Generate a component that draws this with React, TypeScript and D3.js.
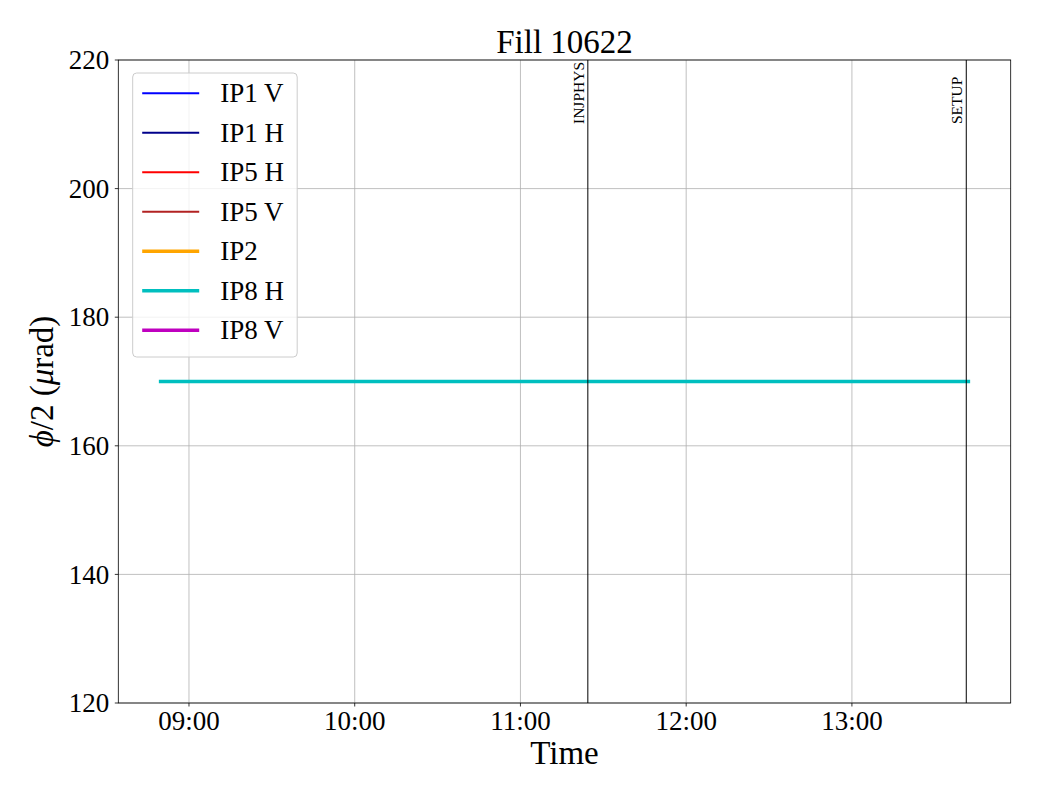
import React from "react";
import * as d3 from "d3";

const seriesNames = ["IP1 V", "IP1 H", "IP5 H", "IP5 V", "IP2", "IP8 H", "IP8 V"];
const seriesColors = ["#0000ff", "#00008b", "#ff0000", "#b22222", "#ffa500", "#00bfbf", "#bf00bf"];
const seriesWidths = [2.08, 2.08, 2.08, 2.08, 3.47, 3.47, 3.47];

// IP8 H crossing angle samples (time, µrad)
const ip8hTimes = ["2025-05-20T08:49:06Z", "2025-05-20T10:00:00Z", "2025-05-20T11:24:24Z", "2025-05-20T12:30:00Z", "2025-05-20T13:42:48Z"];
const ip8hValues = [170, 170, 170, 170, 170];

const modeNames = ["INJPHYS", "SETUP"];
const modeTimes = ["2025-05-20T11:24:24Z", "2025-05-20T13:41:24Z"];

const yTicks = [120, 140, 160, 180, 200, 220];
const xTickTimes = ["2025-05-20T09:00:00Z", "2025-05-20T10:00:00Z", "2025-05-20T11:00:00Z", "2025-05-20T12:00:00Z", "2025-05-20T13:00:00Z"];

const W = 1040, H = 800;
const M = { left: 118.3, right: 29.3, top: 60, bottom: 97 };
const FONT = "'Liberation Serif', 'Times New Roman', serif";

export default function App() {
  const iw = W - M.left - M.right;
  const ih = H - M.top - M.bottom;
  const times = ip8hTimes.map((t) => new Date(t));
  const [t0, t1] = d3.extent(times) as [Date, Date];
  const span = +t1 - +t0;
  const x = d3.scaleUtc().domain([new Date(+t0 - span * 0.05), new Date(+t1 + span * 0.05)]).range([0, iw]);
  const y = d3.scaleLinear().domain([120, 220]).range([ih, 0]);
  const fmt = d3.utcFormat("%H:%M");
  const line = d3.line<[Date, number]>().x((d) => x(d[0])).y((d) => y(d[1]));
  const ip8h: [Date, number][] = times.map((t, i) => [t, ip8hValues[i]]);

  const legX = 132.7 - M.left, legY = 73 - M.top, legW = 164.5, legH = 284;

  return (
    <svg width={W} height={H} style={{ display: "block", position: "absolute", left: 0, top: 0 }} fontFamily={FONT}>
      <rect width={W} height={H} fill="#fff" />
      <text x={M.left + iw / 2} y={53} textAnchor="middle" fontSize={33}>Fill 10622</text>
      <g transform={`translate(${M.left},${M.top})`}>
        {/* grid */}
        {xTickTimes.map((t) => (
          <line key={t} x1={x(new Date(t))} x2={x(new Date(t))} y1={0} y2={ih} stroke="#b0b0b0" strokeWidth={0.8} />
        ))}
        {yTicks.map((v) => (
          <line key={v} x1={0} x2={iw} y1={y(v)} y2={y(v)} stroke="#b0b0b0" strokeWidth={0.8} />
        ))}
        {/* data */}
        <path d={line(ip8h) || ""} fill="none" stroke={seriesColors[5]} strokeWidth={seriesWidths[5]} />
        {/* mode lines */}
        {modeTimes.map((t, i) => {
          const px = x(new Date(t));
          return (
            <g key={t}>
              <line x1={px} x2={px} y1={0} y2={ih} stroke="#000" strokeWidth={1} />
              <text transform={`translate(${px - 4},${64}) rotate(-90)`} textAnchor="start" fontSize={15.5}>{modeNames[i]}</text>
            </g>
          );
        })}
        {/* spines */}
        <rect x={0} y={0} width={iw} height={ih} fill="none" stroke="#000" strokeWidth={0.8} />
        {/* y ticks */}
        {yTicks.map((v) => (
          <g key={v} transform={`translate(0,${y(v)})`}>
            <line x1={-3.5} x2={0} stroke="#000" strokeWidth={0.8} />
            <text x={-9} dy="0.34em" textAnchor="end" fontSize={27}>{v}</text>
          </g>
        ))}
        {/* x ticks */}
        {xTickTimes.map((t) => (
          <g key={t} transform={`translate(${x(new Date(t))},${ih})`}>
            <line y1={0} y2={3.5} stroke="#000" strokeWidth={0.8} />
            <text y={27} textAnchor="middle" fontSize={27}>{fmt(new Date(t))}</text>
          </g>
        ))}
        {/* legend */}
        <rect x={legX} y={legY} width={legW} height={legH} rx={4} fill="#fff" fillOpacity={0.8} stroke="#cccccc" strokeWidth={1} />
        {seriesNames.map((n, i) => {
          const ly = legY + 20.3 + i * 39.5;
          return (
            <g key={n}>
              <line x1={legX + 9.5} x2={legX + 66.5} y1={ly} y2={ly} stroke={seriesColors[i]} strokeWidth={seriesWidths[i]} />
              <text x={legX + 87.5} y={ly} dy="0.34em" fontSize={27}>{n}</text>
            </g>
          );
        })}
      </g>
      <text x={M.left + iw / 2} y={764} textAnchor="middle" fontSize={33}>Time</text>
      <text transform={`translate(53,${M.top + ih / 2}) rotate(-90)`} textAnchor="middle" fontSize={33}>
        <tspan fontStyle="italic">ϕ</tspan>/2 (<tspan fontStyle="italic">μ</tspan>rad)
      </text>
    </svg>
  );
}
